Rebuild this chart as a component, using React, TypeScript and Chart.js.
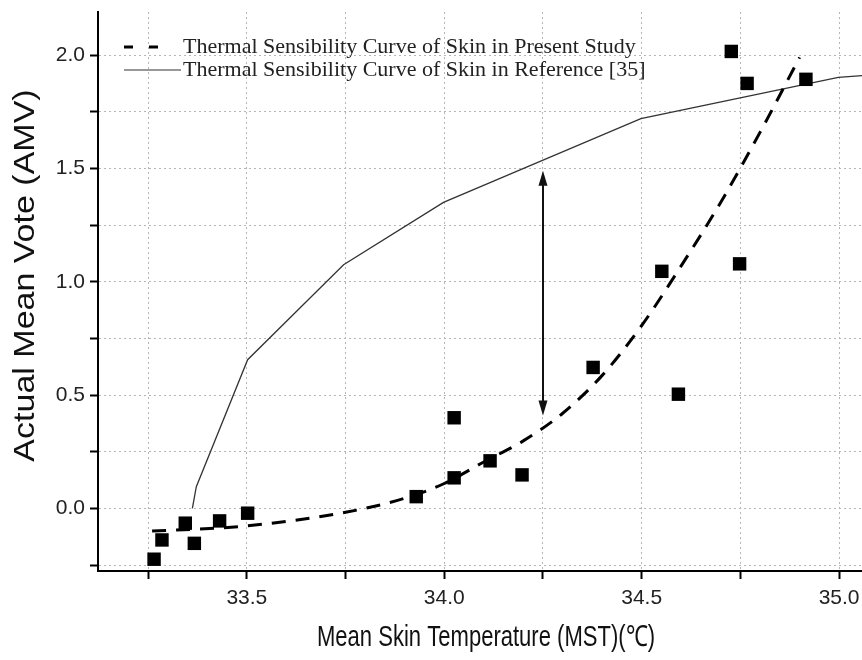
import React, { useEffect, useRef } from 'react';
import { Chart, registerables } from 'chart.js';

Chart.register(...registerables);

// Measured samples (squares)
const sampleTemps = [33.265, 33.285, 33.344, 33.367, 33.431, 33.502, 33.929, 34.025, 34.025, 34.116, 34.197, 34.377, 34.551, 34.593, 34.727, 34.748, 34.767, 34.916];
const sampleVotes = [-0.224, -0.139, -0.065, -0.154, -0.055, -0.021, 0.052, 0.40, 0.135, 0.21, 0.148, 0.622, 1.046, 0.504, 2.016, 1.079, 1.875, 1.893];

// Thermal sensibility curve, present study (dashed)
const presentTemps = [33.26, 33.5, 33.75, 33.9, 34.0, 34.1, 34.2, 34.3, 34.4, 34.5, 34.6, 34.7, 34.8, 34.9];
const presentVotes = [-0.10, -0.077, -0.017, 0.045, 0.11, 0.205, 0.298, 0.42, 0.587, 0.807, 1.07, 1.35, 1.66, 1.99];

// Thermal sensibility curve, reference [35] (solid)
const refTemps = [33.362, 33.372, 33.502, 33.745, 33.998, 34.498, 34.998, 35.06];
const refVotes = [0.0, 0.096, 0.656, 1.075, 1.35, 1.72, 1.902, 1.91];

// Double arrow
const arrowTemp = 34.25;
const arrowTop = 1.49;
const arrowBottom = 0.41;

const legendLabels = [
  'Thermal Sensibility Curve of Skin in Present Study',
  'Thermal Sensibility Curve of Skin in Reference [35]',
];

const xTitle = 'Mean Skin Temperature (MST)(\u2103)';
const yTitle = 'Actual Mean Vote (AMV)';

const X_MIN = 33.123;
const X_MAX = 35.058;
const Y_MIN = -0.276;
const Y_MAX = 2.19;
const STEP = 0.25;

const isHalf = (v: number) => Math.abs(v * 2 - Math.round(v * 2)) < 1e-6;

const overlayPlugin = {
  id: 'overlay',
  afterDatasetsDraw(chart: any) {
    const { ctx, scales } = chart;
    const x = scales.x;
    const y = scales.y;
    const ax = x.getPixelForValue(arrowTemp);
    const yt = y.getPixelForValue(arrowTop);
    const yb = y.getPixelForValue(arrowBottom);
    const headLen = 15;
    const headHalf = 4.5;
    ctx.save();
    ctx.strokeStyle = '#111';
    ctx.fillStyle = '#111';
    ctx.lineWidth = 2;
    ctx.beginPath();
    ctx.moveTo(ax, yt + headLen - 2);
    ctx.lineTo(ax, yb - headLen + 2);
    ctx.stroke();
    ctx.beginPath();
    ctx.moveTo(ax, yt);
    ctx.lineTo(ax - headHalf, yt + headLen);
    ctx.lineTo(ax + headHalf, yt + headLen);
    ctx.closePath();
    ctx.fill();
    ctx.beginPath();
    ctx.moveTo(ax, yb);
    ctx.lineTo(ax - headHalf, yb - headLen);
    ctx.lineTo(ax + headHalf, yb - headLen);
    ctx.closePath();
    ctx.fill();
    ctx.restore();
  },
  afterDraw(chart: any) {
    const { ctx, chartArea } = chart;
    const left = chartArea.left;
    const top = chartArea.top;
    ctx.save();
    // legend row 1: dashed
    const y1 = top + 35;
    ctx.strokeStyle = '#000';
    ctx.lineWidth = 3;
    ctx.beginPath();
    ctx.moveTo(left + 26, y1);
    ctx.lineTo(left + 35, y1);
    ctx.moveTo(left + 51, y1);
    ctx.lineTo(left + 60, y1);
    ctx.stroke();
    // legend row 2: solid
    const y2 = top + 58;
    ctx.strokeStyle = '#333';
    ctx.lineWidth = 1.2;
    ctx.beginPath();
    ctx.moveTo(left + 26, y2);
    ctx.lineTo(left + 83, y2);
    ctx.stroke();
    ctx.fillStyle = '#222';
    ctx.font = '22px "Liberation Serif", "Times New Roman", serif';
    ctx.textBaseline = 'middle';
    ctx.textAlign = 'left';
    ctx.fillText(legendLabels[0], left + 85, y1);
    ctx.fillText(legendLabels[1], left + 85, y2);
    ctx.restore();

    // x axis title (condensed look)
    ctx.save();
    const cx = (chartArea.left + chartArea.right) / 2 + 6;
    const cy = chartArea.bottom + 67;
    ctx.translate(cx, cy);
    ctx.scale(0.76, 1);
    ctx.fillStyle = '#111';
    ctx.font = '29px "Liberation Sans", Arial, sans-serif';
    ctx.textAlign = 'center';
    ctx.textBaseline = 'middle';
    ctx.fillText(xTitle, 0, 0);
    ctx.restore();

    // y axis title
    ctx.save();
    const tx = chartArea.left - 72;
    const ty = (chartArea.top + chartArea.bottom) / 2 - 16;
    ctx.translate(tx, ty);
    ctx.rotate(-Math.PI / 2);
    ctx.scale(1, 0.88);
    ctx.fillStyle = '#111';
    ctx.font = '34px "Liberation Sans", Arial, sans-serif';
    ctx.textAlign = 'center';
    ctx.textBaseline = 'middle';
    ctx.fillText(yTitle, 0, 0);
    ctx.restore();
  },
};

export default function App() {
  const canvasRef = useRef<HTMLCanvasElement | null>(null);

  useEffect(() => {
    const canvas = canvasRef.current;
    if (!canvas) return;
    const chart = new Chart(canvas, {
      type: 'scatter',
      data: {
        datasets: [
          {
            label: 'Samples',
            data: sampleTemps.map((t, i) => ({ x: t, y: sampleVotes[i] })),
            pointStyle: 'rect',
            pointRadius: 9.5,
            pointHoverRadius: 9.5,
            backgroundColor: '#000',
            borderColor: '#000',
            borderWidth: 0,
            showLine: false,
          },
          {
            label: legendLabels[0],
            data: presentTemps.map((t, i) => ({ x: t, y: presentVotes[i] })),
            showLine: true,
            borderColor: '#000',
            borderWidth: 3,
            borderDash: [14, 10],
            pointRadius: 0,
            cubicInterpolationMode: 'monotone',
            fill: false,
          },
          {
            label: legendLabels[1],
            data: refTemps.map((t, i) => ({ x: t, y: refVotes[i] })),
            showLine: true,
            borderColor: '#333',
            borderWidth: 1.3,
            pointRadius: 0,
            tension: 0,
            fill: false,
          },
        ],
      },
      options: {
        responsive: false,
        animation: false,
        events: [],
        layout: { autoPadding: false, padding: { top: 12, right: 0, left: 0, bottom: 0 } },
        plugins: {
          legend: { display: false },
          tooltip: { enabled: false },
        },
        scales: {
          x: {
            type: 'linear',
            min: X_MIN,
            max: X_MAX,
            afterFit: (scale: any) => {
              scale.height = 89;
              scale.paddingLeft = 0;
              scale.paddingRight = 0;
            },
            ticks: {
              stepSize: STEP,
              includeBounds: false,
              autoSkip: false,
              maxRotation: 0,
              padding: 7,
              color: '#222',
              font: { family: '"Liberation Sans", Arial, sans-serif', size: 21 },
              callback: (v: any) => (isHalf(Number(v)) ? Number(v).toFixed(1) : ''),
            },
            grid: {
              color: '#b5b5b5',
              lineWidth: 1,
              tickLength: 8,
              tickWidth: 2,
              tickColor: '#000',
            },
            border: { display: true, color: '#000', width: 2, dash: [2, 3] },
            title: { display: false, text: xTitle },
          },
          y: {
            type: 'linear',
            min: Y_MIN,
            max: Y_MAX,
            afterFit: (scale: any) => {
              scale.width = 98;
              scale.paddingTop = 0;
              scale.paddingBottom = 0;
            },
            ticks: {
              stepSize: STEP,
              includeBounds: false,
              autoSkip: false,
              padding: 5,
              color: '#222',
              font: { family: '"Liberation Sans", Arial, sans-serif', size: 21 },
              callback: (v: any) => (isHalf(Number(v)) ? Number(v).toFixed(1) : ''),
            },
            grid: {
              color: '#b5b5b5',
              lineWidth: 1,
              tickLength: 8,
              tickWidth: 2,
              tickColor: '#000',
            },
            border: { display: true, color: '#000', width: 2, dash: [2, 3] },
            title: { display: false, text: yTitle },
          },
        },
      },
      plugins: [overlayPlugin],
    });
    return () => chart.destroy();
  }, []);

  return (
    <div style={{ position: 'absolute', left: 0, top: 0, width: 862, height: 660, background: '#fff' }}>
      <canvas ref={canvasRef} width={862} height={660} style={{ display: 'block', width: 862, height: 660 }} />
    </div>
  );
}
